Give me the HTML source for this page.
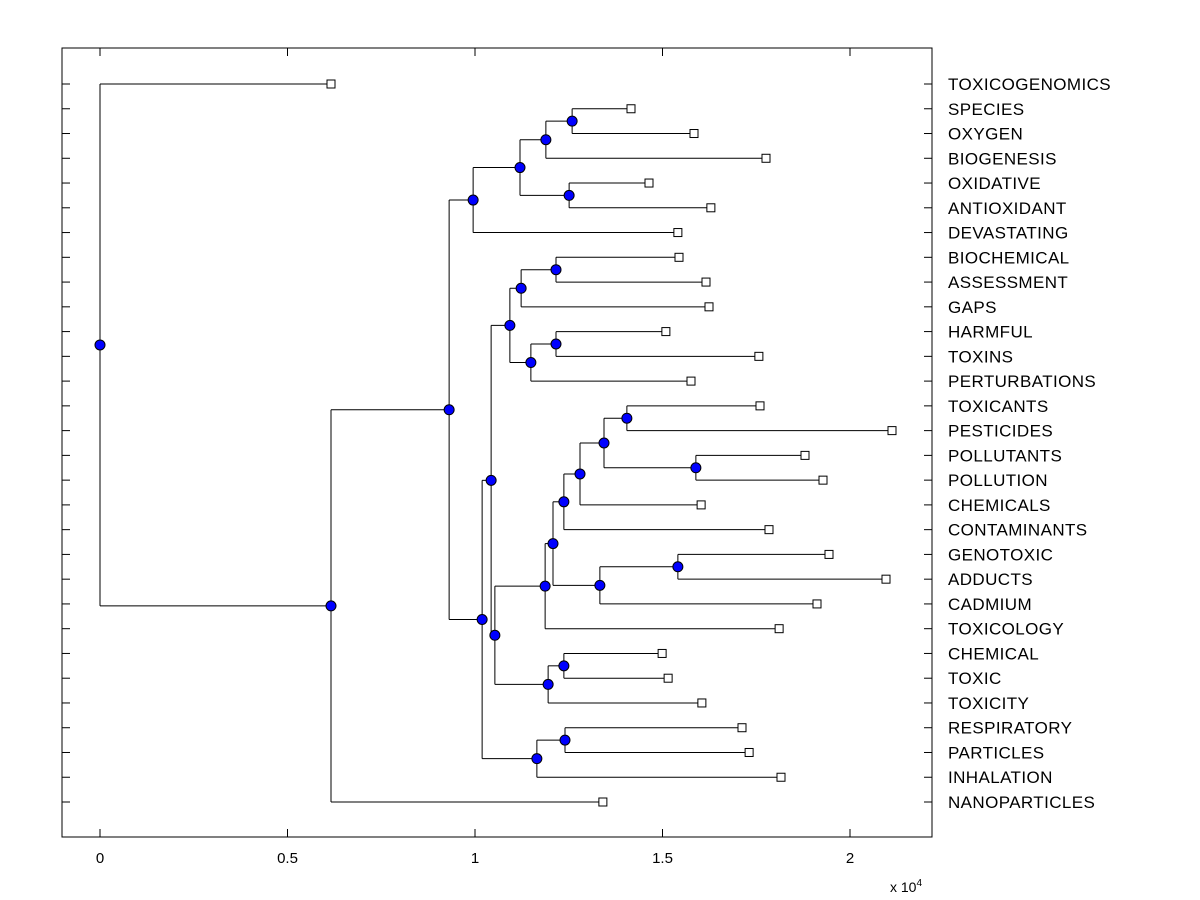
<!DOCTYPE html>
<html><head><meta charset="utf-8"><style>
html,body{margin:0;padding:0;background:#fff;}
svg{display:block;font-family:"Liberation Sans",Arial,sans-serif;}
</style></head><body>
<svg id="chart" width="1200" height="900">
<rect x="62" y="48" width="870" height="789" fill="#fff" stroke="#000" stroke-width="1"/>
<g id="axes"></g><g id="links"></g><g id="marks"></g>
<text x="890" y="892" font-size="14">x 10<tspan dy="-6" font-size="10">4</tspan></text>
</svg>
<script>
const leaves = ["TOXICOGENOMICS","SPECIES","OXYGEN","BIOGENESIS","OXIDATIVE","ANTIOXIDANT","DEVASTATING","BIOCHEMICAL","ASSESSMENT","GAPS","HARMFUL","TOXINS","PERTURBATIONS","TOXICANTS","PESTICIDES","POLLUTANTS","POLLUTION","CHEMICALS","CONTAMINANTS","GENOTOXIC","ADDUCTS","CADMIUM","TOXICOLOGY","CHEMICAL","TOXIC","TOXICITY","RESPIRATORY","PARTICLES","INHALATION","NANOPARTICLES"];
const leafValues = [6160,14160,15840,17760,14640,16290,15410,15440,16160,16240,15090,17570,15760,17600,21120,18800,19280,16030,17840,19440,20960,19120,18110,14990,15150,16050,17120,17310,18160,13410];
const mergeLeft =  [1,30,4,31,33,7,35,10,37,36,13,15,40,42,43,19,45,44,47,23,49,48,39,26,53,52,34,56,0];
const mergeRight = [2,3,5,32,6,8,9,11,12,38,14,16,41,17,18,20,21,46,22,24,25,50,51,27,28,54,55,29,57];
const mergeHeights = [12590,11890,12510,11200,9950,12160,11230,12160,11490,10930,14050,15890,13440,12800,12370,15410,13330,12080,11870,12370,11950,10530,10430,12400,11650,10190,9310,6160,0];
const xTicks = [0,5000,10000,15000,20000];
const xTickLabels = ["0","0.5","1","1.5","2"];

const NS="http://www.w3.org/2000/svg";
const X0=100, XS=0.0375, Y0=84, YS=(802-84)/29;
const xPos=v=>X0+v*XS, yPos=i=>Y0+i*YS;
function mk(tag,attrs,parent){const e=document.createElementNS(NS,tag);for(const k in attrs)e.setAttribute(k,attrs[k]);document.getElementById(parent).appendChild(e);return e;}

xTicks.forEach((t,i)=>{
  const l=mk('line',{x1:xPos(t),x2:xPos(t),y1:837,y2:829,stroke:'#000'},'axes');
  
  
  const l2=mk('line',{x1:xPos(t),x2:xPos(t),y1:48,y2:56,stroke:'#000'},'axes');
  
  
  const tx=mk('text',{x:xPos(t),y:863,'font-size':15,'text-anchor':'middle'},'axes');
  tx.textContent=xTickLabels[i];
  
  
});
leaves.forEach((n,i)=>{
  const l=mk('line',{x1:62,x2:70,y1:yPos(i),y2:yPos(i),stroke:'#000'},'axes');
  
  
  const l2=mk('line',{x1:924,x2:932,y1:yPos(i),y2:yPos(i),stroke:'#000'},'axes');
  
  
  const tx=mk('text',{x:948,y:yPos(i)+6,'font-size':17,'letter-spacing':'0.4'},'axes');
  tx.textContent=n;
  
  
});

const N=leaves.length;
const nx=[],ny=[];
leaves.forEach((n,i)=>{nx[i]=xPos(leafValues[i]);ny[i]=yPos(i);});
mergeHeights.forEach((h,k)=>{
  const a=mergeLeft[k],b=mergeRight[k],id=N+k;
  nx[id]=xPos(h);ny[id]=(ny[a]+ny[b])/2;
  const v=mk('line',{x1:nx[id],x2:nx[id],y1:ny[a],y2:ny[b],stroke:'#000'},'links');
  
  
  [a,b].forEach(c=>{
    const hl=mk('line',{x1:nx[id],x2:nx[c],y1:ny[c],y2:ny[c],stroke:'#000'},'links');
    
    
  });
});
leaves.forEach((n,i)=>{
  const r=mk('rect',{x:nx[i]-4,y:ny[i]-4,width:8,height:8,fill:'#fff',stroke:'#000'},'marks');
  
  
});
mergeHeights.forEach((h,k)=>{
  const id=N+k;
  const c=mk('circle',{cx:nx[id],cy:ny[id],r:5,fill:'#0000ff',stroke:'#000'},'marks');
  
  
});
</script>
</body></html>
